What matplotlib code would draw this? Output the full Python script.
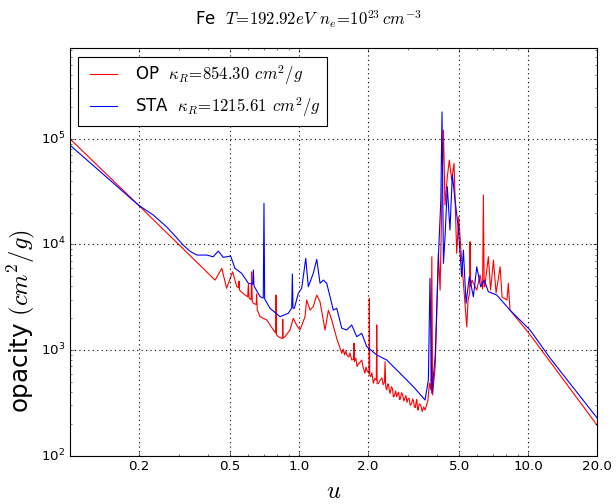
import matplotlib
matplotlib.use("Agg")
import matplotlib.pyplot as plt
from matplotlib.ticker import FixedLocator, FixedFormatter

plt.style.use('classic')
plt.rcParams['mathtext.fontset'] = 'cm'
plt.rcParams['font.family'] = ['DejaVu Sans']

# ---- data (u, opacity cm^2/g) ----
op_u = [0.1, 0.199, 0.395, 0.430, 0.460, 0.483, 0.513, 0.535, 0.545, 0.547, 0.550,
        0.581, 0.597, 0.601, 0.605, 0.618, 0.621, 0.625, 0.632, 0.650, 0.653, 0.657,
        0.676, 0.723, 0.773, 0.791, 0.794, 0.797, 0.812, 0.840, 0.847, 0.849, 0.852,
        0.869, 0.913, 0.944, 0.975, 1.01, 1.062, 1.080, 1.117, 1.154, 1.195, 1.235,
        1.299, 1.343, 1.389, 1.461, 1.537, 1.56, 1.58, 1.60, 1.615, 1.65, 1.67, 1.698,
        1.730, 1.738, 1.745, 1.77, 1.792, 1.81, 1.84, 1.879, 1.90, 1.941, 1.96, 1.98,
        2.020, 2.028, 2.036, 2.056, 2.08, 2.111, 2.14, 2.175, 2.184, 2.193, 2.223, 2.26,
        2.30, 2.33, 2.36, 2.375, 2.39, 2.415, 2.44, 2.46, 2.48, 2.50, 2.53, 2.56,
        2.58, 2.61, 2.64, 2.671, 2.70, 2.72, 2.75, 2.77, 2.80, 2.83, 2.87, 2.90, 2.93,
        2.96, 2.99, 3.02, 3.06, 3.105, 3.13, 3.16, 3.19, 3.22, 3.25, 3.27, 3.29,
        3.31, 3.35, 3.40, 3.45, 3.50, 3.55, 3.65, 3.71, 3.76, 3.80, 3.83, 3.93, 3.99,
        4.06, 4.13, 4.20, 4.27, 4.34, 4.44, 4.53, 4.64, 4.75, 4.88, 4.98, 5.08, 5.22,
        5.40, 5.47, 5.56, 5.58, 5.61, 5.69, 5.97, 6.17, 6.33, 6.38, 6.43, 6.47, 6.71,
        6.86, 7.06, 7.25, 7.55, 7.70, 8.09, 8.2, 8.34, 10.2, 20.0]
op_k = [1.0e5, 2.36e4, 5.52e3, 4.60e3, 5.94e3, 3.85e3, 5.52e3, 3.98e3, 3.9e3, 4.5e3, 3.7e3,
        3.32e3, 3.2e3, 4.2e3, 3.1e3, 3.0e3, 5.5e3, 2.9e3, 2.77e3, 2.7e3, 3.4e3, 2.4e3,
        2.07e3, 1.93e3, 1.55e3, 1.45e3, 3.32e3, 1.4e3, 1.34e3, 1.29e3, 1.3e3, 1.95e3, 1.3e3,
        1.34e3, 1.55e3, 2.0e3, 1.73e3, 1.55e3, 2.07e3, 2.98e3, 2.39e3, 2.58e3, 3.32e3, 2.87e3,
        1.55e3, 2.39e3, 1.93e3, 1.29e3, 933, 1.02e3, 900, 980, 899, 860, 940, 806,
        820, 1.16e3, 780, 840, 697, 730, 760, 806, 700, 604, 690, 640,
        600, 3.09e3, 580, 560, 610, 485, 540, 520, 1.73e3, 480, 485, 520,
        545, 470, 500, 776, 450, 419, 480, 470, 410, 390, 450, 430,
        360, 370, 410, 362, 390, 400, 340, 345, 395, 380, 330, 352, 370,
        320, 345, 350, 300, 314, 345, 330, 290, 285, 330, 340, 280,
        271, 310, 300, 262, 290, 271, 330, 485, 420, 7.65e3, 376, 700, 2.07e3,
        8.24e3, 3.7e3, 2.45e4, 1.21e5, 2.36e4, 4.37e4, 6.29e4, 4.07e4, 5.85e4, 8.24e3, 1.83e4, 9.5e3, 4.3e3,
        1.66e3, 2.98e3, 3.5e3, 1.06e4, 4.0e3, 4.6e3, 3.7e3, 5.14e3, 3.8e3, 2.93e4, 4.0e3, 3.98e3, 7.65e3,
        3.7e3, 7.11e3, 3.47e3, 6.15e3, 3.18e3, 2.98e3, 4.29e3, 2.39e3, 1.40e3, 195]

sta_u = [0.1, 0.199, 0.231, 0.264, 0.290, 0.313, 0.335, 0.358, 0.395, 0.422, 0.444, 0.467, 0.503,
         0.525, 0.562, 0.601, 0.628, 0.632, 0.636, 0.676, 0.698, 0.703, 0.708, 0.747,
         0.826, 0.898, 0.929, 0.935, 0.941, 0.954, 0.993, 1.027, 1.070, 1.098, 1.154,
         1.195, 1.235, 1.277, 1.321, 1.412, 1.461, 1.537, 1.615, 1.698, 1.786, 1.879,
         1.975, 2.184, 2.415, 2.76, 3.155, 3.55, 3.67, 3.73, 3.80, 3.93, 4.06, 4.16,
         4.21, 4.27, 4.34, 4.44, 4.56, 4.67, 4.80, 4.96, 5.13, 5.22, 5.36, 5.54, 5.77,
         5.97, 6.21, 6.43, 6.71, 7.30, 8.34, 10.2, 12.5, 20.0]
sta_k = [8.72e4, 2.36e4, 1.90e4, 1.47e4, 1.18e4, 9.8e3, 8.6e3, 7.94e3, 7.94e3, 7.65e3, 8.66e3, 7.55e3, 7.77e3,
         5.94e3, 5.33e3, 4.29e3, 4.2e3, 5.73e3, 4.05e3, 3.2e3, 3.11e3, 2.45e4, 3.05e3, 2.49e3,
         2.07e3, 2.23e3, 2.5e3, 5.25e3, 2.5e3, 2.49e3, 3.45e3, 3.85e3, 7.39e3, 3.98e3, 5.33e3,
         7.23e3, 4.29e3, 4.6e3, 4.29e3, 2.39e3, 2.49e3, 1.61e3, 1.55e3, 1.73e3, 1.34e3, 1.44e3,
         1.08e3, 899, 806, 604, 451, 337, 521, 4.78e3, 390, 866, 7.65e3, 2.63e4,
         1.80e5, 6.62e3, 1.18e4, 3.52e4, 1.37e4, 4.54e4, 2.63e4, 1.42e4, 4.95e3, 8.85e3, 2.77e3, 4.95e3, 3.2e3,
         6.15e3, 3.98e3, 4.6e3, 3.57e3, 3.32e3, 2.39e3, 1.55e3, 836, 228]

x_ticks = [0.2, 0.5, 1.0, 2.0, 5.0, 10.0, 20.0]
x_tick_labels = ["0.2", "0.5", "1.0", "2.0", "5.0", "10.0", "20.0"]

op_label = r"OP  $\kappa_R\!=\!854.30\;\,cm^2/g$"
sta_label = r"STA  $\kappa_R\!=\!1215.61\;\,cm^2/g$"
title = r"Fe  $T\!=\!192.92eV\;\,n_e\!=\!10^{23}\,cm^{-3}$"

fig = plt.figure(figsize=(7.7, 6.3), dpi=80, facecolor='white')
ax = fig.add_axes([0.1136, 0.0958, 0.8556, 0.8084])
ax.plot(op_u, op_k, color='red', lw=1.0, label=op_label)
ax.plot(sta_u, sta_k, color='blue', lw=1.0, label=sta_label)
ax.set_xscale('log')
ax.set_yscale('log')
ax.set_xlim(0.1, 20.0)
ax.set_ylim(100, 7.2e5)
ax.xaxis.set_major_locator(FixedLocator(x_ticks))
ax.xaxis.set_major_formatter(FixedFormatter(x_tick_labels))
ax.grid(True, which='major', color='k', linestyle=':', linewidth=1.0)
ax.tick_params(labelsize=12)
ax.set_xlabel(r"$u$", fontsize=22)
ax.set_ylabel(r"opacity $(cm^2/g)$", fontsize=22)
ax.yaxis.set_label_coords(-0.062, 0.33)
fig.suptitle(title, fontsize=15, x=0.5, y=0.962, va='center')
leg = ax.legend(loc='upper left', fontsize=15, fancybox=False, handlelength=2.2)
leg.get_frame().set_edgecolor('k')
fig.savefig("out.png", dpi=80, facecolor='white')
